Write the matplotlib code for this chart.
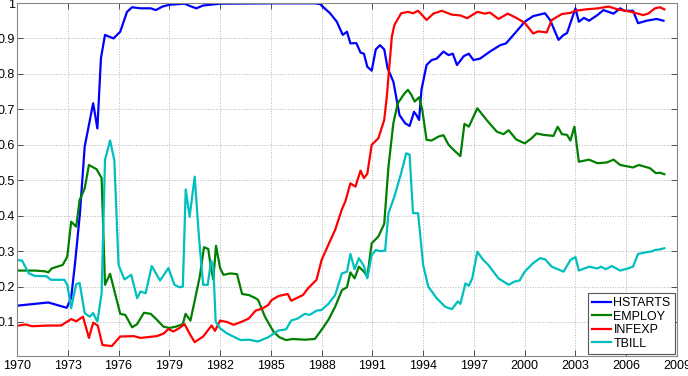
import matplotlib.pyplot as plt
from matplotlib.ticker import FuncFormatter

plt.rcParams['font.family'] = ['Liberation Sans', 'DejaVu Sans']

# values (year, probability)
hstarts_x = [1970.0, 1971.85, 1972.94, 1973.2, 1973.43, 1973.72, 1974.0, 1974.5, 1974.75, 1974.96,
             1975.2, 1975.7, 1976.1, 1976.5, 1976.8, 1977.3, 1977.9, 1978.2, 1978.6, 1979.0,
             1979.9, 1980.3, 1980.6, 1981.0, 1982.0, 1985.0, 1987.6, 1987.9, 1988.5, 1988.9,
             1989.25, 1989.5, 1989.7, 1990.05, 1990.3, 1990.5, 1990.7, 1990.96, 1991.2, 1991.45,
             1991.7, 1991.9, 1992.24, 1992.6, 1992.93, 1993.2, 1993.46, 1993.6, 1993.76, 1993.9,
             1994.2, 1994.5, 1994.8, 1995.2, 1995.5, 1995.75, 1996.0, 1996.4, 1996.7, 1996.97,
             1997.36, 1997.95, 1998.55, 1998.9, 1999.5, 2000.0, 2000.5, 2001.2, 2001.5, 2002.0,
             2002.3, 2002.5, 2003.0, 2003.2, 2003.5, 2003.8, 2004.3, 2004.65, 2005.25, 2005.64,
             2005.9, 2006.4, 2006.7, 2007.2, 2007.8, 2008.2]
hstarts_y = [0.146, 0.155, 0.140, 0.168, 0.266, 0.407, 0.595, 0.717, 0.646, 0.844,
             0.91, 0.90, 0.919, 0.975, 0.988, 0.985, 0.985, 0.98, 0.99, 0.995,
             0.998, 0.99, 0.985, 0.993, 0.998, 0.999, 0.999, 0.997, 0.971, 0.947,
             0.91, 0.919, 0.886, 0.887, 0.86, 0.857, 0.82, 0.809, 0.869, 0.881,
             0.869, 0.816, 0.778, 0.684, 0.661, 0.653, 0.693, 0.684, 0.67, 0.755,
             0.825, 0.839, 0.843, 0.863, 0.853, 0.857, 0.825, 0.85, 0.857, 0.839,
             0.843, 0.863, 0.881, 0.886, 0.919, 0.947, 0.963, 0.971, 0.952, 0.896,
             0.91, 0.915, 0.985, 0.947, 0.958, 0.95, 0.966, 0.98, 0.97, 0.985,
             0.978, 0.978, 0.943, 0.95, 0.955, 0.95]

employ_x = [1970.0, 1971.05, 1971.65, 1971.85, 1972.05, 1972.7, 1972.97, 1973.2, 1973.5, 1973.7,
            1974.0, 1974.25, 1974.7, 1975.0, 1975.2, 1975.5, 1976.1, 1976.4, 1976.8, 1977.1,
            1977.5, 1977.9, 1978.25, 1978.65, 1979.0, 1979.4, 1979.8, 1979.96, 1980.25, 1980.5,
            1980.8, 1981.05, 1981.3, 1981.45, 1981.6, 1981.76, 1982.0, 1982.2, 1982.6, 1983.0,
            1983.3, 1983.7, 1984.1, 1984.25, 1984.65, 1985.15, 1985.5, 1985.9, 1986.3, 1987.0,
            1987.6, 1988.0, 1988.4, 1988.8, 1989.2, 1989.5, 1989.7, 1989.95, 1990.2, 1990.5,
            1990.7, 1990.96, 1991.35, 1991.7, 1991.95, 1992.24, 1992.5, 1992.9, 1993.1, 1993.3,
            1993.5, 1993.76, 1993.95, 1994.2, 1994.5, 1994.9, 1995.2, 1995.5, 1995.9, 1996.2,
            1996.44, 1996.7, 1997.2, 1997.75, 1998.35, 1998.75, 1999.05, 1999.5, 2000.0, 2000.4,
            2000.7, 2001.1, 2001.7, 2001.95, 2002.2, 2002.5, 2002.7, 2002.94, 2003.2, 2003.8,
            2004.3, 2004.85, 2005.25, 2005.64, 2006.4, 2006.75, 2007.4, 2007.75, 2008.0, 2008.25]
employ_y = [0.245, 0.245, 0.243, 0.24, 0.251, 0.261, 0.284, 0.383, 0.369, 0.444,
            0.477, 0.543, 0.531, 0.506, 0.205, 0.236, 0.123, 0.12, 0.085, 0.094,
            0.126, 0.123, 0.107, 0.087, 0.083, 0.087, 0.094, 0.123, 0.104, 0.16,
            0.228, 0.311, 0.306, 0.256, 0.22, 0.315, 0.252, 0.233, 0.237, 0.235,
            0.179, 0.176, 0.167, 0.162, 0.115, 0.073, 0.057, 0.049, 0.052, 0.05,
            0.052, 0.078, 0.106, 0.143, 0.19, 0.198, 0.24, 0.223, 0.256, 0.242,
            0.228, 0.322, 0.341, 0.377, 0.538, 0.661, 0.717, 0.745, 0.755, 0.741,
            0.722, 0.734, 0.698, 0.614, 0.612, 0.623, 0.627, 0.60, 0.581, 0.568,
            0.659, 0.651, 0.703, 0.67, 0.637, 0.63, 0.641, 0.615, 0.604, 0.618,
            0.632, 0.628, 0.625, 0.651, 0.63, 0.628, 0.612, 0.651, 0.552, 0.558,
            0.548, 0.55, 0.558, 0.543, 0.536, 0.543, 0.534, 0.52, 0.521, 0.517]

infexp_x = [1970.0, 1970.5, 1970.9, 1971.85, 1972.6, 1973.2, 1973.5, 1973.9, 1974.25, 1974.5,
            1974.77, 1975.05, 1975.6, 1976.1, 1976.9, 1977.3, 1978.25, 1978.65, 1978.95, 1979.24,
            1979.6, 1979.9, 1980.2, 1980.5, 1981.0, 1981.5, 1981.7, 1982.0, 1982.4, 1982.8,
            1983.3, 1983.7, 1984.1, 1984.5, 1984.85, 1985.05, 1985.45, 1986.0, 1986.2, 1986.9,
            1987.2, 1987.7, 1988.0, 1988.4, 1988.8, 1989.2, 1989.4, 1989.7, 1990.0, 1990.3,
            1990.5, 1990.7, 1990.96, 1991.35, 1991.7, 1991.85, 1992.15, 1992.3, 1992.7, 1993.1,
            1993.4, 1993.7, 1993.9, 1994.2, 1994.6, 1995.1, 1995.7, 1996.2, 1996.6, 1997.2,
            1997.65, 1997.95, 1998.45, 1999.0, 1999.5, 2000.0, 2000.5, 2000.8, 2001.3, 2001.6,
            2002.2, 2002.7, 2003.0, 2003.6, 2004.35, 2004.95, 2005.5, 2006.3, 2007.0, 2007.3,
            2007.7, 2008.0, 2008.25]
infexp_y = [0.089, 0.093, 0.088, 0.09, 0.09, 0.108, 0.102, 0.115, 0.055, 0.098,
            0.09, 0.035, 0.032, 0.059, 0.06, 0.055, 0.06, 0.067, 0.08, 0.073,
            0.083, 0.094, 0.067, 0.043, 0.059, 0.09, 0.075, 0.104, 0.10, 0.092,
            0.101, 0.11, 0.132, 0.138, 0.148, 0.162, 0.173, 0.179, 0.16, 0.176,
            0.195, 0.219, 0.275, 0.318, 0.36, 0.418, 0.44, 0.491, 0.482, 0.527,
            0.506, 0.518, 0.60, 0.618, 0.67, 0.735, 0.905, 0.938, 0.971, 0.975,
            0.971, 0.978, 0.968, 0.952, 0.97, 0.978, 0.967, 0.965, 0.957, 0.975,
            0.97, 0.973, 0.955, 0.97, 0.958, 0.944, 0.914, 0.92, 0.917, 0.952,
            0.969, 0.972, 0.978, 0.982, 0.985, 0.99, 0.982, 0.975, 0.966, 0.97,
            0.985, 0.988, 0.982]

tbill_x = [1970.0, 1970.3, 1970.7, 1971.05, 1971.75, 1972.0, 1972.8, 1972.97, 1973.2, 1973.5,
           1973.7, 1974.0, 1974.3, 1974.5, 1974.75, 1975.0, 1975.2, 1975.5, 1975.75, 1976.0,
           1976.35, 1976.75, 1977.1, 1977.3, 1977.6, 1977.96, 1978.45, 1978.95, 1979.3, 1979.6,
           1979.8, 1979.97, 1980.2, 1980.5, 1980.75, 1981.0, 1981.27, 1981.47, 1981.6, 1981.74,
           1982.0, 1982.4, 1983.2, 1983.7, 1984.25, 1984.85, 1985.45, 1985.9, 1986.2, 1986.6,
           1987.0, 1987.3, 1987.7, 1988.0, 1988.4, 1988.8, 1989.2, 1989.5, 1989.7, 1989.95,
           1990.2, 1990.5, 1990.7, 1990.96, 1991.2, 1991.45, 1991.75, 1991.95, 1992.3, 1992.7,
           1993.0, 1993.2, 1993.4, 1993.7, 1994.0, 1994.3, 1994.8, 1995.3, 1995.7, 1996.05,
           1996.2, 1996.5, 1996.7, 1996.9, 1997.2, 1997.55, 1997.85, 1998.45, 1999.05, 1999.4,
           1999.7, 2000.0, 2000.5, 2000.9, 2001.2, 2001.6, 2002.3, 2002.7, 2003.0, 2003.2,
           2003.8, 2004.3, 2004.5, 2004.8, 2005.15, 2005.64, 2006.1, 2006.4, 2006.7, 2007.1,
           2007.5, 2007.7, 2008.0, 2008.25]
tbill_y = [0.275, 0.273, 0.237, 0.23, 0.229, 0.219, 0.219, 0.205, 0.139, 0.207,
           0.21, 0.125, 0.115, 0.125, 0.101, 0.181, 0.557, 0.612, 0.557, 0.261,
           0.22, 0.233, 0.167, 0.186, 0.181, 0.258, 0.217, 0.252, 0.205, 0.198,
           0.20, 0.474, 0.397, 0.51, 0.341, 0.205, 0.205, 0.273, 0.256, 0.101,
           0.082, 0.068, 0.049, 0.05, 0.045, 0.057, 0.076, 0.079, 0.104, 0.11,
           0.123, 0.12, 0.132, 0.134, 0.151, 0.176, 0.237, 0.242, 0.292, 0.249,
           0.28, 0.258, 0.223, 0.289, 0.303, 0.30, 0.301, 0.407, 0.454, 0.52,
           0.576, 0.572, 0.407, 0.407, 0.261, 0.20, 0.167, 0.143, 0.136, 0.158,
           0.151, 0.209, 0.202, 0.223, 0.298, 0.275, 0.261, 0.223, 0.205, 0.214,
           0.217, 0.242, 0.266, 0.28, 0.277, 0.256, 0.242, 0.275, 0.283, 0.245,
           0.256, 0.251, 0.256, 0.249, 0.258, 0.245, 0.251, 0.256, 0.292, 0.296,
           0.299, 0.303, 0.305, 0.308]

series_names = ['HSTARTS', 'EMPLOY', 'INFEXP', 'TBILL']
series_x = [hstarts_x, employ_x, infexp_x, tbill_x]
series_y = [hstarts_y, employ_y, infexp_y, tbill_y]
colors = [(0, 0, 1), (0, 0.5, 0), (1, 0, 0), (0, 0.75, 0.75)]

x_ticks = list(range(1970, 2010, 3))
y_ticks = [0.1, 0.2, 0.3, 0.4, 0.5, 0.6, 0.7, 0.8, 0.9, 1.0]

fig = plt.figure(figsize=(6.88, 3.76), dpi=100)
ax = fig.add_axes([17 / 688, 20 / 376, 660 / 688, 353 / 376])

for name, xs, ys, c in zip(series_names, series_x, series_y, colors):
    ax.plot(xs, ys, color=c, lw=1.6, label=name)

ax.set_xlim(1970, 2009)
ax.set_ylim(0.004, 1.0)
ax.set_xticks(x_ticks)
ax.set_yticks(y_ticks)
ax.yaxis.set_major_formatter(FuncFormatter(lambda v, p: '1' if v == 1 else f'{v:.1f}'))
ax.tick_params(direction='in', length=4, width=0.6, top=True, right=True,
               labelsize=9, colors='#333333', labelcolor='black')
ax.tick_params(axis='y', pad=1.5)
ax.tick_params(axis='x', pad=3)
ax.grid(True, linestyle=':', color='#b5b5b5', lw=0.7)
for s in ax.spines.values():
    s.set_color('#888888')
    s.set_linewidth(0.8)

leg = ax.legend(loc='lower right', fontsize=9, handlelength=1.5, handletextpad=0.2,
                borderpad=0.35, labelspacing=0.12, fancybox=False, framealpha=1,
                borderaxespad=0.15)
leg.get_frame().set_edgecolor('#555555')
leg.get_frame().set_linewidth(0.8)

fig.savefig('out.png', dpi=100)
